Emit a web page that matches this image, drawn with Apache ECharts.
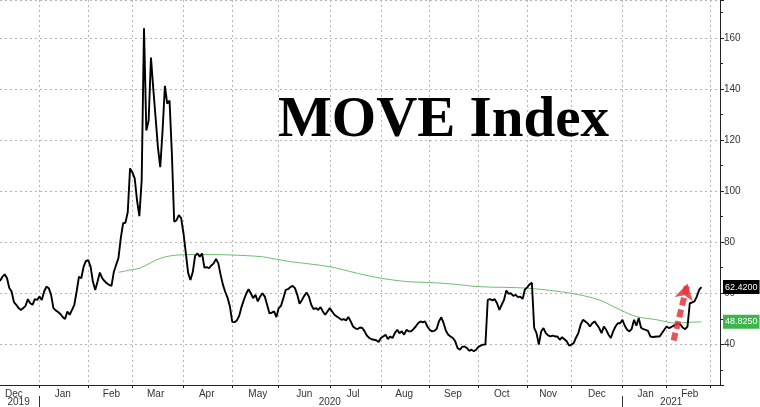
<!DOCTYPE html>
<html><head><meta charset="utf-8">
<script src="https://cdn.jsdelivr.net/npm/echarts@6/dist/echarts.min.js"></script>
<style>html,body{margin:0;padding:0;background:#fff}#c{width:760px;height:407px}</style>
</head><body><div id="c"></div>
<script>
// ---- data ----
const startDate = '2019-12-06';
const endDate = '2021-03-05';
const holidays = ['2019-12-25','2020-01-01','2020-01-20','2020-02-17','2020-04-10','2020-05-25','2020-07-03',
  '2020-09-07','2020-10-12','2020-11-11','2020-11-26','2020-12-25','2021-01-01','2021-01-18','2021-02-15'];
const monthNames = ['Jan','Feb','Mar','Apr','May','Jun','Jul','Aug','Sep','Oct','Nov','Dec'];
// MOVE index, one value per trading day starting at startDate
const moveValues = [
  // Dec 2019
  64.8, 66.4, 67.4, 66.0, 62.1, 60.7, 56.5, 55.5, 54.2, 53.5, 54.2, 55.1, 57.7, 56.1, 55.5, 57.7, 57.4,
  // Jan 2020
  58.7, 57.4, 60.7, 62.6, 62.0, 59.4, 54.2, 53.3, 52.7, 51.9, 50.7, 49.9, 52.9, 51.6, 53.5, 55.5, 60.7, 66.5, 65.9, 70.4, 72.7,
  // Feb
  73.0, 70.4, 64.6, 61.3, 64.6, 68.1, 65.9, 64.8, 63.9, 63.3, 62.9, 68.3, 71.1, 73.8, 81.6, 87.4, 87.6, 91.7, 108.9,
  // Mar
  107.3, 105.0, 96.4, 90.2, 104.2, 163.7, 123.7, 127.6, 152.3, 140.0, 128.7, 117.1, 109.4, 123.7, 141.2, 134.2, 135.4, 114.7, 88.0, 88.6, 90.6, 89.4,
  // Apr
  83.5, 75.8, 68.0, 65.2, 68.3, 74.6, 75.6, 74.3, 75.6, 70.1, 70.2, 69.8, 70.9, 71.7, 73.4, 71.7, 67.2, 63.3, 60.5, 58.2, 54.8,
  // May
  48.8, 48.7, 49.4, 51.2, 54.7, 57.4, 59.8, 61.6, 60.0, 58.1, 59.4, 56.8, 58.7, 60.0, 58.7, 55.5, 52.2, 52.4, 52.9, 50.7,
  // Jun
  54.2, 55.1, 58.1, 61.3, 61.6, 62.4, 62.9, 62.0, 59.4, 55.9, 57.4, 59.0, 60.3, 58.7, 55.5, 53.8, 54.2, 53.5, 54.6, 52.9, 51.6, 52.9,
  // Jul
  54.2, 52.9, 51.6, 50.9, 50.3, 49.6, 49.9, 49.4, 50.7, 49.0, 47.0, 46.3, 46.0, 46.6, 46.4, 45.1, 43.4, 42.5, 42.0, 41.8, 41.6, 40.9,
  // Aug
  42.5, 43.1, 43.8, 42.1, 43.1, 42.5, 44.4, 45.7, 44.4, 45.1, 43.8, 45.7, 45.1, 45.1, 46.0, 47.0, 48.3, 49.0, 48.6, 49.0, 47.0,
  // Sep
  45.7, 45.1, 45.3, 46.0, 49.0, 50.6, 48.3, 45.3, 43.8, 43.1, 42.5, 41.2, 38.6, 37.9, 39.0, 39.2, 38.6, 37.5, 37.9, 37.3, 37.9,
  // Oct
  39.0, 39.5, 39.9, 39.9, 57.4, 57.7, 57.2, 57.7, 56.1, 53.5, 55.5, 57.4, 61.1, 59.8, 60.0, 59.0, 59.4, 58.5, 58.7, 57.8, 61.5,
  // Nov
  62.3, 63.5, 64.1, 46.5, 44.4, 39.9, 45.0, 46.4, 44.4, 43.5, 43.1, 43.4, 43.1, 43.1, 41.8, 42.8, 42.0, 41.2, 39.5,
  // Dec
  39.9, 40.5, 42.6, 44.4, 47.7, 49.6, 49.0, 48.3, 47.0, 48.3, 49.0, 47.7, 46.4, 44.4, 47.0, 45.7, 43.8, 42.5, 45.1, 47.0, 48.3, 48.3,
  // Jan 2021
  49.6, 47.3, 45.7, 45.1, 46.1, 49.6, 47.3, 50.3, 46.5, 46.0, 45.7, 45.3, 43.1, 42.9, 43.0, 43.1, 43.1, 44.4, 45.7,
  // Feb 2021
  47.0, 46.4, 46.8, 47.3, 47.7, 48.1, 47.7, 46.5, 46.0, 47.0, 56.1, 56.4, 56.8, 58.7, 61.3, 62.42
];
// moving average (green)
const maDates = ['2020-02-21','2020-02-28','2020-03-05','2020-03-12','2020-03-18','2020-03-24','2020-03-30','2020-04-09',
  '2020-04-30','2020-05-20','2020-05-29','2020-06-08','2020-07-01','2020-07-20','2020-08-03','2020-08-18','2020-09-01',
  '2020-09-15','2020-10-01','2020-11-02','2020-12-01','2020-12-17','2020-12-31','2021-01-12','2021-01-26','2021-02-05',
  '2021-02-12','2021-02-23'];
const maValues = [68.2, 69.1, 69.8, 72.0, 73.7, 74.6, 75.0, 75.2,
  75.0, 74.3, 73.3, 72.4, 70.4, 67.8, 65.9, 64.6, 64.2,
  63.7, 62.6, 62.0, 60.0, 57.4, 53.5, 50.9, 49.6, 48.3,
  48.6, 48.825];
const lastMove = 62.42;
const lastMa = 48.825;
const arrowFrom = ['2021-02-04', 41.5];
const arrowTo = ['2021-02-12', 63.8];
const titleText = 'MOVE Index';

// ---- trading-day category axis ----
const days = [];
for (let t = Date.parse(startDate + 'T00:00:00Z'); t <= Date.parse(endDate + 'T00:00:00Z'); t += 86400000) {
  const d = new Date(t); const wd = d.getUTCDay(); const s = d.toISOString().slice(0, 10);
  if (wd === 0 || wd === 6 || holidays.includes(s)) continue;
  days.push(s);
}
const monthStart = new Set(), monthLabel = new Set(), yearStart = new Set(), yearLabel = new Set();
const seenMonthLabel = {}; const yearRange = {};
days.forEach((s, i) => {
  const ym = s.slice(0, 7), y = s.slice(0, 4), dd = +s.slice(8, 10);
  if (i > 0 && days[i - 1].slice(0, 7) !== ym) monthStart.add(i);
  if (i > 0 && days[i - 1].slice(0, 4) !== y) yearStart.add(i);
  if (!seenMonthLabel[ym] && dd >= 16) { seenMonthLabel[ym] = true; monthLabel.add(i); }
  if (!yearRange[y]) yearRange[y] = [i, i]; else yearRange[y][1] = i;
});
Object.values(yearRange).forEach(r => yearLabel.add(Math.round((r[0] + r[1]) / 2)));

const gridLine = { color: '#b5b5b5', type: [2, 3], width: 1 };
const axisColor = '#222';
const hidden = { color: 'rgba(0,0,0,0)', width: 0 };
const chart = echarts.init(document.getElementById('c'));
chart.setOption({
  animation: false,
  backgroundColor: '#fff',
  textStyle: { fontFamily: 'Liberation Sans' },
  title: { text: titleText, left: 273, top: 88,
    textStyle: { fontFamily: 'Liberation Serif', fontWeight: 'bold', fontSize: 57, color: '#000' } },
  grid: { left: 0, right: 40, top: -1, bottom: 21.5 },
  xAxis: [{
    type: 'category', data: days, boundaryGap: false,
    axisLine: { lineStyle: { color: axisColor, width: 1 } },
    axisTick: { interval: (i) => monthStart.has(i), length: 3, lineStyle: { color: axisColor } },
    axisLabel: { interval: (i) => monthLabel.has(i), formatter: (v) => monthNames[+v.slice(5, 7) - 1],
      color: '#333', fontSize: 10, margin: 4 },
    splitLine: { show: true, interval: (i) => monthStart.has(i), lineStyle: gridLine }
  }, {
    type: 'category', data: days, boundaryGap: false, position: 'bottom', offset: 11,
    axisLine: { show: false },
    axisTick: { show: true, interval: (i) => yearStart.has(i), length: 12, lineStyle: { color: '#333' } },
    axisLabel: { interval: (i) => yearLabel.has(i), formatter: (v) => v.slice(0, 4), color: '#333', fontSize: 10, margin: 1 },
    splitLine: { show: false }
  }],
  yAxis: {
    type: 'value', position: 'right', min: 24.1, max: 174.8, splitNumber: 7,
    axisLine: { show: true, lineStyle: { color: axisColor } },
    axisTick: { show: true, length: 4, lineStyle: { color: axisColor } },
    minorTick: { show: true, splitNumber: 2, length: 3, lineStyle: { color: axisColor } },
    axisLabel: { showMinLabel: false, showMaxLabel: false, color: '#333', fontSize: 10, margin: 4 },
    splitLine: { show: true, lineStyle: gridLine }
  },
  series: [{
    name: 'MOVE', type: 'line', data: moveValues, showSymbol: false, symbol: 'none',
    lineStyle: { color: '#000', width: 1.9 }, z: 3, silent: true,
    markLine: {
      silent: true, symbol: ['none', 'none'], animation: false,
      data: [
        { yAxis: lastMove, lineStyle: hidden,
          label: { show: true, position: 'end', formatter: lastMove.toFixed(4), color: '#fff', backgroundColor: '#000',
            padding: [3, 2, 2, 2], fontSize: 9, distance: 3 } },
        [ { coord: arrowFrom, symbol: 'none' },
          { coord: arrowTo, symbol: 'arrow', symbolSize: [14, 16],
            lineStyle: { color: 'rgba(228,52,60,0.85)', width: 6, type: [8, 4] }, label: { show: false } } ]
      ]
    }
  }, {
    name: 'MA', type: 'line', data: maDates.map((d, i) => [d, maValues[i]]), showSymbol: false, symbol: 'none',
    smooth: 0.3, lineStyle: { color: '#6dbf6d', width: 1 }, z: 2, silent: true,
    markLine: {
      silent: true, symbol: ['none', 'none'], animation: false,
      data: [{ yAxis: lastMa, lineStyle: hidden,
        label: { show: true, position: 'end', formatter: lastMa.toFixed(4), color: '#fff', backgroundColor: '#3db54a',
          padding: [3, 2, 2, 2], fontSize: 9, distance: 3 } }]
    }
  }]
});
</script></body></html>
